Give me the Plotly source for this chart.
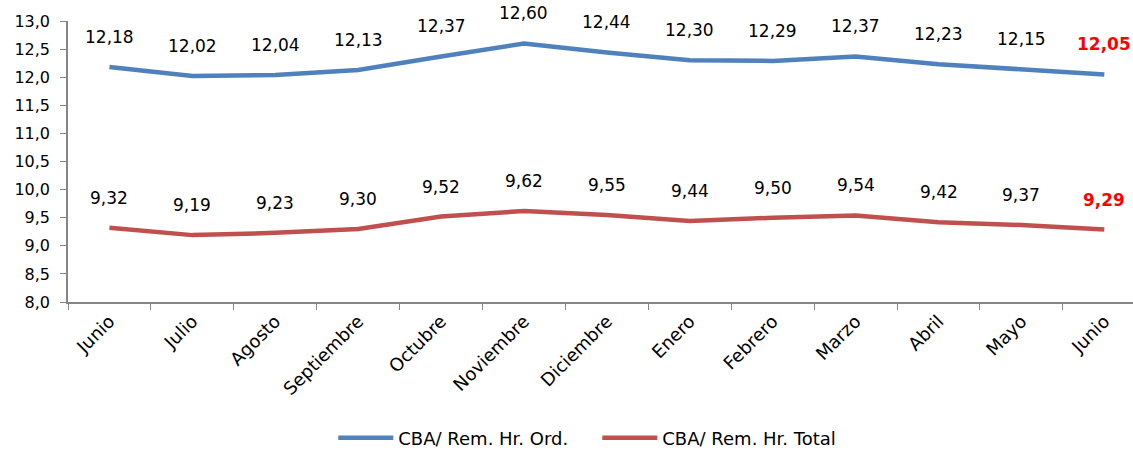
import plotly.graph_objects as go

months = ["Junio", "Julio", "Agosto", "Septiembre", "Octubre", "Noviembre", "Diciembre",
          "Enero", "Febrero", "Marzo", "Abril", "Mayo", "Junio"]
ord_vals = [12.18, 12.02, 12.04, 12.13, 12.37, 12.60, 12.44, 12.30, 12.29, 12.37, 12.23, 12.15, 12.05]
tot_vals = [9.32, 9.19, 9.23, 9.30, 9.52, 9.62, 9.55, 9.44, 9.50, 9.54, 9.42, 9.37, 9.29]
series_names = ["CBA/ Rem. Hr. Ord.", "CBA/ Rem. Hr. Total"]
colors = ["#4F81BD", "#C0504D"]

xs = list(range(len(months)))
FONT = "DejaVu Sans, sans-serif"

fig = go.Figure()
for name, vals, col in zip(series_names, [ord_vals, tot_vals], colors):
    fig.add_trace(go.Scatter(x=xs, y=vals, mode="lines", name=name,
                             line=dict(color=col, width=4.5)))

annotations = []
for vals in [ord_vals, tot_vals]:
    for i, v in enumerate(vals):
        last = i == len(vals) - 1
        txt = f"{v:.2f}".replace(".", ",")
        annotations.append(dict(
            x=xs[i], y=v, xref="x", yref="y", text=f"<b>{txt}</b>" if last else txt,
            showarrow=False, yshift=30,
            font=dict(family=FONT, size=17, color="#FF0000" if last else "#000000")))

fig.update_layout(
    width=1133, height=457,
    margin=dict(l=68, r=0, t=21, b=153),
    paper_bgcolor="white", plot_bgcolor="white",
    separators=",.",
    font=dict(family=FONT, size=16, color="#000000"),
    annotations=annotations,
    showlegend=True,
    legend=dict(orientation="h", x=0.497, xanchor="center", y=-0.484, yanchor="middle",
                font=dict(family=FONT, size=18), itemwidth=55,
                entrywidth=194, entrywidthmode="pixels"),
    xaxis=dict(range=[-0.5, 12.346], tickmode="array", tickvals=xs, ticktext=months,
               tickangle=-45, ticks="", showgrid=False, zeroline=False,
               showline=True, linecolor="#868686", linewidth=1.5,
               tickfont=dict(family=FONT, size=18),
               minor=dict(tick0=-0.5, dtick=1, ticks="outside", ticklen=6,
                          tickcolor="#868686", showgrid=False)),
    yaxis=dict(range=[8, 13], dtick=0.5, tick0=8, tickformat=".1f", showgrid=False,
               zeroline=False, showline=True, linecolor="#868686", linewidth=1.5,
               ticks="outside", ticklen=6, tickcolor="#868686", ticklabelstandoff=7,
               tickfont=dict(family=FONT, size=16)),
)

fig.write_html("out.html", config={"displayModeBar": False},
               post_script="document.body.style.margin='0';")
